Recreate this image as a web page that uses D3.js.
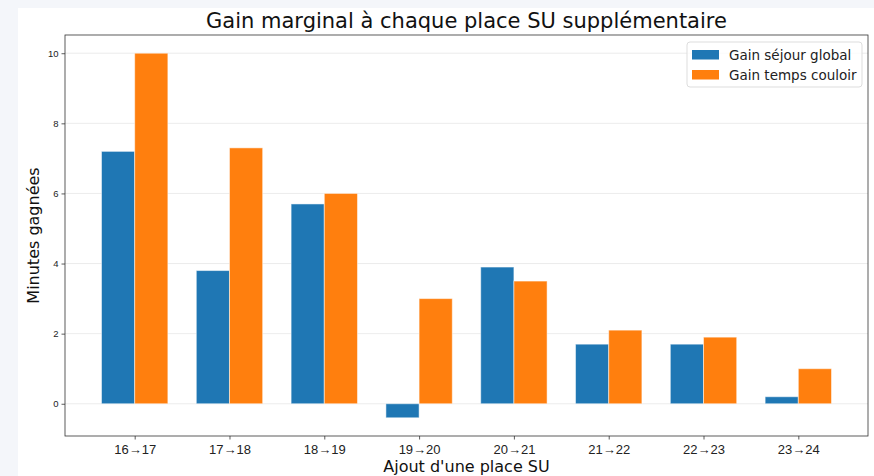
<!DOCTYPE html>
<html>
<head>
<meta charset="utf-8">
<script src="https://cdn.jsdelivr.net/npm/d3@7"></script>
<style>
  body { margin: 0; background: #f4f6fa; }
  svg { display: block; font-family: "DejaVu Sans", sans-serif; }
</style>
</head>
<body>
<div id="chart"></div>
<script>
// gain marginal par place SU
const categories = ["16→17", "17→18", "18→19", "19→20", "20→21", "21→22", "22→23", "23→24"];
const gainSejour = [7.2, 3.8, 5.7, -0.4, 3.9, 1.7, 1.7, 0.2];
const gainCouloir = [10.0, 7.3, 6.0, 3.0, 3.5, 2.1, 1.9, 1.0];
const yTicks = [0, 2, 4, 6, 8, 10];
const seriesNames = ["Gain séjour global", "Gain temps couloir"];
const colors = ["#1f77b4", "#ff7f0e"];

var width = 874;
var height = 476;

var svg = d3.select("#chart").append("svg")
    .attr("width", width)
    .attr("height", height);

// figure background
svg.append("rect")
  .attr("x", 18)
  .attr("y", 8)
  .attr("width", width - 18)
  .attr("height", height - 8)
  .attr("fill", "white");

var plot = { left: 65, right: 868, top: 35, bottom: 436 };

var barW = 0.35;
var x = d3.scaleLinear()
    .domain([-0.735, categories.length - 1 + 0.735])
    .range([plot.left, plot.right]);

var y = d3.scaleLinear()
    .domain([-0.92, 10.52])
    .range([plot.bottom, plot.top]);

// grid
svg.append("g")
  .selectAll("line")
  .data(yTicks).enter()
  .append("line")
    .attr("x1", plot.left)
    .attr("x2", plot.right)
    .attr("y1", d => y(d))
    .attr("y2", d => y(d))
    .attr("stroke", "#b0b0b0")
    .attr("stroke-opacity", 0.3)
    .attr("stroke-width", 0.8);

var series = [gainSejour, gainCouloir];
series.forEach(function(vals, s) {
  svg.append("g")
    .selectAll("rect")
    .data(vals).enter()
    .append("rect")
      .attr("x", (d, i) => x(i + (s === 0 ? -barW : 0)))
      .attr("width", x(barW) - x(0))
      .attr("y", d => y(Math.max(0, d)))
      .attr("height", d => Math.abs(y(d) - y(0)))
      .attr("fill", colors[s])
      .attr("stroke", "white")
      .attr("stroke-opacity", 0.5)
      .attr("stroke-width", 1);
});

// axes
var xAxis = svg.append("g")
  .attr("transform", "translate(0," + plot.bottom + ")")
  .call(d3.axisBottom(x)
    .tickValues(d3.range(categories.length))
    .tickFormat(i => categories[i])
    .tickSizeOuter(0)
    .tickSize(3.5));
xAxis.selectAll("text").attr("font-size", 13).attr("fill", "#222").attr("dy", "0.85em");

var yAxis = svg.append("g")
  .attr("transform", "translate(" + plot.left + ",0)")
  .call(d3.axisLeft(y)
    .tickValues(yTicks)
    .tickSizeOuter(0)
    .tickSize(3.5));
yAxis.selectAll("text").attr("font-size", 9.5).attr("fill", "#222");

svg.selectAll(".domain").remove();
svg.selectAll(".tick line").attr("stroke", "#333").attr("stroke-width", 0.8);

// frame
svg.append("rect")
  .attr("x", plot.left)
  .attr("y", plot.top)
  .attr("width", plot.right - plot.left)
  .attr("height", plot.bottom - plot.top)
  .attr("fill", "none")
  .attr("stroke", "#333")
  .attr("stroke-width", 0.8);

// titles
svg.append("text")
  .attr("x", (plot.left + plot.right) / 2)
  .attr("y", 28)
  .attr("text-anchor", "middle")
  .attr("font-size", 21)
  .attr("fill", "#111")
  .text("Gain marginal à chaque place SU supplémentaire");

svg.append("text")
  .attr("x", (plot.left + plot.right) / 2)
  .attr("y", 472)
  .attr("text-anchor", "middle")
  .attr("font-size", 16)
  .attr("fill", "#111")
  .text("Ajout d'une place SU");

svg.append("text")
  .attr("transform", "translate(39," + ((plot.top + plot.bottom) / 2) + ") rotate(-90)")
  .attr("text-anchor", "middle")
  .attr("font-size", 16)
  .attr("fill", "#111")
  .text("Minutes gagnées");

// legend
var legend = svg.append("g")
  .attr("transform", "translate(687,42)");

legend.append("rect")
  .attr("width", 175)
  .attr("height", 45)
  .attr("rx", 3)
  .attr("fill", "white")
  .attr("fill-opacity", 0.8)
  .attr("stroke", "#ddd");

var items = legend.selectAll(".item")
  .data(seriesNames).enter()
  .append("g")
    .attr("transform", (d, i) => "translate(5," + (8 + i * 20) + ")");

items.append("rect")
  .attr("width", 27)
  .attr("height", 9.5)
  .attr("fill", (d, i) => colors[i]);

items.append("text")
  .attr("x", 37)
  .attr("y", 5)
  .attr("dy", "0.35em")
  .attr("font-size", 13.5)
  .attr("fill", "#222")
  .text(d => d);
</script>
</body>
</html>
